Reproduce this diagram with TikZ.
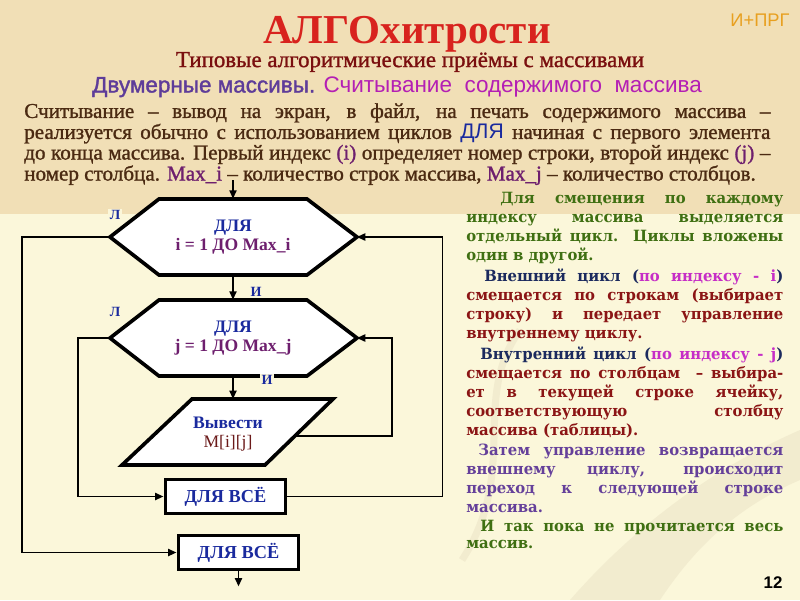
\documentclass[tikz,border=0pt]{standalone}
\usepackage{fontspec}
\setmainfont{Liberation Serif}
\newfontfamily\introfont[FakeBold=1.2]{Liberation Serif}
\newfontfamily\rightfont[FakeStretch=0.96]{DejaVu Serif}
\newfontfamily\headsans{Liberation Sans}
\newfontfamily\headsansbold[FakeBold=1.5]{Liberation Sans}
\usetikzlibrary{arrows.meta,calc}

\definecolor{bgtop}{HTML}{F1DFB6}
\definecolor{bglow}{HTML}{FBF7DA}
\definecolor{swoosh}{HTML}{E3D8BC}
\definecolor{titlered}{HTML}{D8231E}
\definecolor{subred}{HTML}{7A0F0F}
\definecolor{headpurple}{HTML}{5E3C99}
\definecolor{headmag}{HTML}{B41FB4}
\definecolor{parbrown}{HTML}{4B2A12}
\definecolor{flowblue}{HTML}{1A2A9E}
\definecolor{flowpurple}{HTML}{6E1F6E}
\definecolor{outred}{HTML}{6B1A1A}
\definecolor{cgreen}{HTML}{3F6F12}
\definecolor{cnavy}{HTML}{1B2A5E}
\definecolor{cmag}{HTML}{C62EC6}
\definecolor{cdred}{HTML}{8B1515}
\definecolor{cpurple}{HTML}{65409A}
\definecolor{corange}{HTML}{E8A020}

\tikzset{
  flow/.style={line width=1.4pt, black},
  arr/.style={-{Triangle[length=6pt,width=5pt]}},
  shapeline/.style={draw=black, line width=2.6pt, fill=white, line join=miter},
  forbox/.style={draw=black, line width=2.8pt, fill=white, minimum width=3.0cm,
    minimum height=0.85cm, font=\bfseries\fontsize{13}{15}\selectfont, text=flowblue},
  flowtext/.style={align=center, font=\bfseries\fontsize{12.5}{13}\selectfont},
  branch/.style={text=flowblue, font=\bfseries\fontsize{10}{12}\selectfont, fill=bglow, inner sep=1pt},
}

\begin{document}
\begin{tikzpicture}[x=0.025cm, y=-0.025cm]
        \useasboundingbox (0,0) rectangle (800,600);

        % 1. Background
        \fill[bgtop] (0,0) rectangle (800,214);
        \fill[bglow] (0,214) rectangle (800,600);
        \fill[swoosh, opacity=0.35] (570,600) .. controls (640,520) and (720,465) .. (800,430)
            -- (800,480) .. controls (730,510) and (690,555) .. (660,600) -- cycle;
        \draw[swoosh, line width=5pt, opacity=0.35] (462,560) .. controls (520,470) and (470,400) .. (520,330);

        % 2. Headings
        \node[text=titlered, font=\bfseries\fontsize{29.2}{32}\selectfont] (title) at (407,34) {АЛГОхитрости};
        \node[text=corange, font=\headsans\fontsize{13}{14}\selectfont] (corner) at (760,20) {И+ПРГ};
        \node[text=subred, font=\introfont\fontsize{16.3}{18}\selectfont] (subtitle) at (410,62) {Типовые алгоритмические приёмы с массивами};
        \node[font=\headsans\fontsize{16}{18}\selectfont] (heading) at (397,87)
            {\textcolor{headpurple}{\headsansbold Двумерные массивы.} \textcolor{headmag}{Считывание\ \ содержимого\ \ массива}};

        % 3. Introductory paragraph
        \node[anchor=north west, text width=18.65cm, align=justify, inner sep=0pt, text=parbrown] (intro) at (24,103)
            {\introfont\fontsize{15}{11.4}\selectfont\baselineskip=11.4pt\lineskiplimit=-100pt\lineskip=0pt
             Считывание – вывод на экран, в файл, на печать содержимого массива –\linebreak
             реализуется обычно с использованием циклов \textcolor{flowblue}{\headsans ДЛЯ} начиная с первого элемента\linebreak
             до конца массива. Первый индекс \textcolor{flowpurple}{(i)} определяет номер строки, второй индекс \textcolor{flowpurple}{(j)} –\linebreak
             номер столбца. \textcolor{flowpurple}{Max\_i} – количество строк массива, \textcolor{flowpurple}{Max\_j} – количество столбцов.};

        % 4. Flowchart shapes
        \coordinate (c1) at (233,237);
        \coordinate (c2) at (233,338);
        \foreach \c in {c1,c2} {
            \draw[shapeline] ($(\c)+(-123,0)$) -- ($(\c)+(-74,-38)$) -- ($(\c)+(74,-38)$)
                -- ($(\c)+(124,0)$) -- ($(\c)+(74,38)$) -- ($(\c)+(-74,38)$) -- cycle;
        }
        \node[flowtext, minimum width=6.175cm, minimum height=1.9cm] (h1) at (c1)
            {\textcolor{flowblue}{ДЛЯ}\\ \textcolor{flowpurple}{i = 1 ДО Max\_i}};
        \node[flowtext, minimum width=6.175cm, minimum height=1.9cm] (h2) at (c2)
            {\textcolor{flowblue}{ДЛЯ}\\ \textcolor{flowpurple}{j = 1 ДО Max\_j}};

        \coordinate (p1) at (192,399);
        \coordinate (p2) at (333,399);
        \coordinate (p3) at (265,465);
        \coordinate (p4) at (122,465);
        \draw[shapeline] (p1) -- (p2) -- (p3) -- (p4) -- cycle;
        \coordinate (pr) at ($(p2)!0.56!(p3)$);
        \node[flowtext] (out) at (228,434)
            {\textcolor{flowblue}{Вывести}\\ \textcolor{outred}{\mdseries M[i][j]}};

        \node[forbox] (b1) at (225.5,496.5) {ДЛЯ ВСЁ};
        \node[forbox] (b2) at (238.5,552.5) {ДЛЯ ВСЁ};

        % 5. Connectors
        \coordinate (start) at (h1.north |- 0,180);
        \draw[flow, arr] (start) -- (h1.north);
        \draw[flow, arr] (h1.south) -- (h2.north);
        \draw[flow, arr] (h2.south) -- (h2.south |- p1);
        \draw[flow, arr] (h1.west) -- ++(-87,0) |- (b2.west);
        \draw[flow, arr] (b1.east) -- ++(155,0) |- (h1.east);
        \draw[flow, arr] (h2.west) -- ++(-31,0) |- (b1.west);
        \draw[flow, arr] (pr) -- ++(97,0) |- (h2.east);
        \draw[flow, arr] (b2.south) -- ++(0,15);

        % 6. Branch labels
        \node[branch] (no1) at (115,215) {Л};
        \node[branch] (yes1) at (256,292) {И};
        \node[branch] (no2) at (115,312) {Л};
        \node[branch] (yes2) at (267,380) {И};

        % 7. Explanation on the right
        \node[anchor=north west, text width=7.925cm, align=justify, inner sep=0pt] (notes) at (466,192)
            {\rightfont\bfseries\fontsize{11}{13.5}\selectfont\baselineskip=13.5pt\parskip=1.3pt
             \hspace*{0.85cm}\color{cgreen}Для смещения по каждому\linebreak
             индексу массива выделяется\linebreak
             отдельный цикл. Циклы вложены\linebreak
             один в другой.\par
             \hspace*{0.45cm}\textcolor{cnavy}{Внешний цикл (}\textcolor{cmag}{по индексу - i}\textcolor{cnavy}{)}\linebreak
             \color{cdred}смещается по строкам (выбирает\linebreak
             строку) и передает управление\linebreak
             внутреннему циклу.\par
             \hspace*{0.35cm}\textcolor{cnavy}{Внутренний цикл (}\textcolor{cmag}{по индексу - j}\textcolor{cnavy}{)}\linebreak
             смещается по столбцам \ – выбира-\linebreak
             ет в текущей строке ячейку,\linebreak
             соответствующую столбцу\linebreak
             массива (таблицы).\par
             \hspace*{0.3cm}\color{cpurple}Затем управление возвращается\linebreak
             внешнему циклу, происходит\linebreak
             переход к следующей строке\linebreak
             массива.\par
             \hspace*{0.35cm}\color{cgreen}И так пока не прочитается весь\linebreak
             массив.};

        % 8. Page number
        \node[font=\headsans\bfseries\fontsize{12}{14}\selectfont] (page) at (773,583) {12};
    \end{tikzpicture}
\end{document}
